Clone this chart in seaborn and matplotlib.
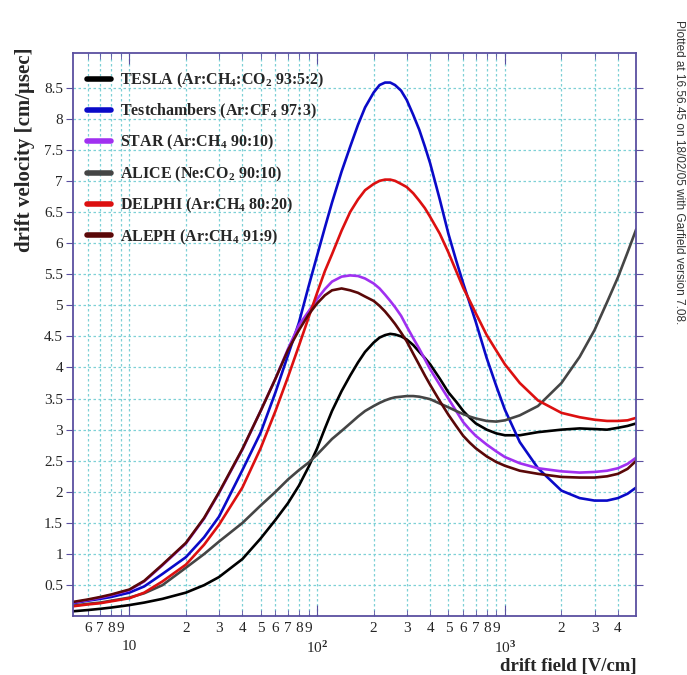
import numpy as np
import pandas as pd
import matplotlib
matplotlib.use("Agg")
import matplotlib.pyplot as plt
import matplotlib.ticker as mticker
import seaborn as sns

# ---------------- data ----------------
field = [5, 6, 7, 8, 10, 12, 15, 20, 25, 30,
         40, 50, 60, 70, 80, 90, 100,
         110, 120, 135, 150, 165, 180, 200,
         215, 230, 245, 260, 280, 300,
         325, 350, 375, 400, 450, 500,
         550, 600, 650, 700, 800, 900, 1000,
         1200, 1500, 2000, 2500, 3000, 3500, 4000, 4500, 5000]

tesla = [0.08, 0.10, 0.12, 0.14, 0.18, 0.22, 0.28, 0.38, 0.50, 0.63,
         0.92, 1.25, 1.55, 1.82, 2.10, 2.40, 2.70,
         3.02, 3.30, 3.62, 3.87, 4.08, 4.25, 4.40,
         4.48, 4.52, 4.54, 4.53, 4.50, 4.45,
         4.36, 4.25, 4.15, 4.05, 3.82, 3.60,
         3.45, 3.30, 3.19, 3.10, 3.00, 2.94, 2.91,
         2.91, 2.96, 3.00, 3.02, 3.01, 3.00, 3.03, 3.06, 3.10]

testch = [0.21, 0.25, 0.28, 0.31, 0.38, 0.48, 0.68, 0.95, 1.27, 1.60,
          2.35, 2.95, 3.60, 4.20, 4.72, 5.30, 5.80,
          6.25, 6.65, 7.15, 7.55, 7.90, 8.18, 8.42,
          8.54, 8.58, 8.58, 8.54, 8.45, 8.30,
          8.06, 7.82, 7.55, 7.28, 6.70, 6.15,
          5.72, 5.35, 5.03, 4.73, 4.15, 3.70, 3.32,
          2.80, 2.38, 2.02, 1.90, 1.86, 1.86, 1.90, 1.97, 2.07]

star = [0.22, 0.26, 0.30, 0.34, 0.42, 0.56, 0.82, 1.17, 1.57, 1.98,
        2.68, 3.30, 3.82, 4.30, 4.68, 4.90, 5.10,
        5.26, 5.38, 5.46, 5.48, 5.47, 5.43, 5.35,
        5.27, 5.17, 5.07, 4.97, 4.83, 4.66,
        4.47, 4.30, 4.13, 3.97, 3.72, 3.50,
        3.30, 3.12, 3.00, 2.90, 2.76, 2.65, 2.56,
        2.46, 2.38, 2.33, 2.31, 2.32, 2.34, 2.38, 2.45, 2.55]

alice = [0.17, 0.20, 0.22, 0.25, 0.30, 0.37, 0.50, 0.78, 1.00, 1.20,
         1.50, 1.78, 2.00, 2.20, 2.35, 2.47, 2.60,
         2.73, 2.85, 2.98, 3.10, 3.21, 3.30, 3.38,
         3.43, 3.47, 3.50, 3.52, 3.53, 3.54,
         3.54, 3.53, 3.51, 3.49, 3.42, 3.36,
         3.30, 3.25, 3.21, 3.18, 3.14, 3.13, 3.15,
         3.23, 3.38, 3.75, 4.17, 4.60, 5.05, 5.45, 5.85, 6.22]

delphi = [0.16, 0.19, 0.21, 0.24, 0.29, 0.38, 0.56, 0.83, 1.15, 1.47,
          2.07, 2.70, 3.30, 3.85, 4.35, 4.80, 5.20,
          5.55, 5.82, 6.20, 6.50, 6.70, 6.85, 6.95,
          7.00, 7.02, 7.02, 7.00, 6.95, 6.90,
          6.80, 6.68, 6.56, 6.42, 6.15, 5.85,
          5.55, 5.28, 5.07, 4.87, 4.52, 4.27, 4.05,
          3.75, 3.47, 3.27, 3.20, 3.16, 3.14, 3.14, 3.15, 3.19]

aleph = [0.23, 0.27, 0.31, 0.35, 0.43, 0.57, 0.83, 1.18, 1.58, 1.99,
         2.69, 3.30, 3.82, 4.28, 4.60, 4.85, 5.03,
         5.16, 5.24, 5.27, 5.24, 5.20, 5.14, 5.07,
         4.99, 4.90, 4.80, 4.70, 4.56, 4.42,
         4.22, 4.04, 3.87, 3.72, 3.46, 3.24,
         3.06, 2.90, 2.79, 2.70, 2.57, 2.48, 2.42,
         2.34, 2.29, 2.24, 2.23, 2.23, 2.25, 2.29, 2.37, 2.50]

labels = [r"TESLA (Ar:CH$_{4}$:CO$_{2}$ 93:5:2)",
          r"Testchambers (Ar:CF$_{4}$ 97:3)",
          r"STAR (Ar:CH$_{4}$ 90:10)",
          r"ALICE (Ne:CO$_{2}$ 90:10)",
          r"DELPHI (Ar:CH$_{4}$ 80:20)",
          r"ALEPH (Ar:CH$_{4}$ 91:9)"]
series = [tesla, testch, star, alice, delphi, aleph]
colors = ["#000000", "#0a0ac8", "#a030f0", "#454545", "#dc1010", "#5a0808"]

major_ticks = [10, 100, 1000]
major_labels = ["10", r"10$^{2}$", r"10$^{3}$"]

# ---------------- style ----------------
sns.set_style("white")
plt.rcParams["font.family"] = ["Liberation Serif", "DejaVu Serif"]
plt.rcParams["mathtext.fontset"] = "custom"
plt.rcParams["mathtext.rm"] = "Liberation Serif:bold"
plt.rcParams["mathtext.default"] = "rm"

df = pd.concat([pd.DataFrame({"field": field, "v": s, "gas": lab})
                for s, lab in zip(series, labels)], ignore_index=True)

fig = plt.figure(figsize=(6.87, 6.75), dpi=100)
ax = fig.add_axes([0.106, 0.087, 0.820, 0.834])

sns.lineplot(data=df, x="field", y="v", hue="gas", hue_order=labels,
             palette=dict(zip(labels, colors)), linewidth=1.9, ax=ax,
             sort=False, estimator=None)

ax.set_xscale("log")
ax.set_xlim(5, 5000)
ax.set_ylim(0, 9.05)

grid_c = "#7dd0d6"
frame_c = "#5a4fa0"

# y ticks
ax.set_yticks(np.arange(0.5, 8.51, 0.5))
ax.yaxis.set_major_formatter(mticker.FormatStrFormatter("%g"))
ax.grid(axis="y", which="major", color=grid_c, linestyle=(0, (2, 2)), linewidth=0.9)

# x ticks
ax.xaxis.set_major_locator(mticker.FixedLocator(major_ticks))
ax.xaxis.set_major_formatter(mticker.FixedFormatter(major_labels))
minor_pos = [m * d for d in (1, 10, 100, 1000) for m in range(2, 10) if 5 < m * d < 5000]
ax.xaxis.set_minor_locator(mticker.FixedLocator(minor_pos))
ax.xaxis.set_minor_formatter(mticker.FuncFormatter(
    lambda v, p: "%d" % round(v / 10 ** np.floor(np.log10(v) + 1e-9))))
ax.grid(axis="x", which="both", color=grid_c, linestyle=(0, (2, 2)), linewidth=0.9)

ax.tick_params(axis="x", which="major", pad=17, labelsize=11, direction="in",
               length=8, color=frame_c, top=True, bottom=True)
ax.tick_params(axis="x", which="minor", pad=4, labelsize=11, direction="in",
               length=4, color=frame_c, top=True, bottom=True)
ax.tick_params(axis="y", which="major", labelsize=11, direction="out", length=5,
               color=frame_c, left=True, right=True, pad=2)

for sp in ax.spines.values():
    sp.set_color(frame_c)
    sp.set_linewidth(1.3)

ax.set_ylabel("drift velocity [cm/\u03bcsec]", fontsize=15, fontweight="bold",
              loc="top")
ax.yaxis.set_label_coords(-0.068, 1.01)
ax.set_xlabel("drift field [V/cm]", fontsize=13.5, fontweight="bold", loc="right")
ax.xaxis.set_label_coords(1.0, -0.074)

handles, labs = ax.get_legend_handles_labels()
for h in handles:
    h.set_linewidth(4)
leg = ax.legend(handles, labs, loc="upper left", bbox_to_anchor=(0.0, 0.995),
                frameon=False, handlelength=1.5, handletextpad=0.55,
                labelspacing=0.76,
                prop={"family": "Liberation Serif", "weight": "bold", "size": 11.5})

fig.text(0.988, 0.97, "Plotted at 16.56.45 on 18/02/05 with Garfield version 7.08.",
         rotation=-90, ha="center", va="top", fontsize=8.5, color="#333333",
         family="Liberation Sans")

fig.savefig("out.png", dpi=100)
